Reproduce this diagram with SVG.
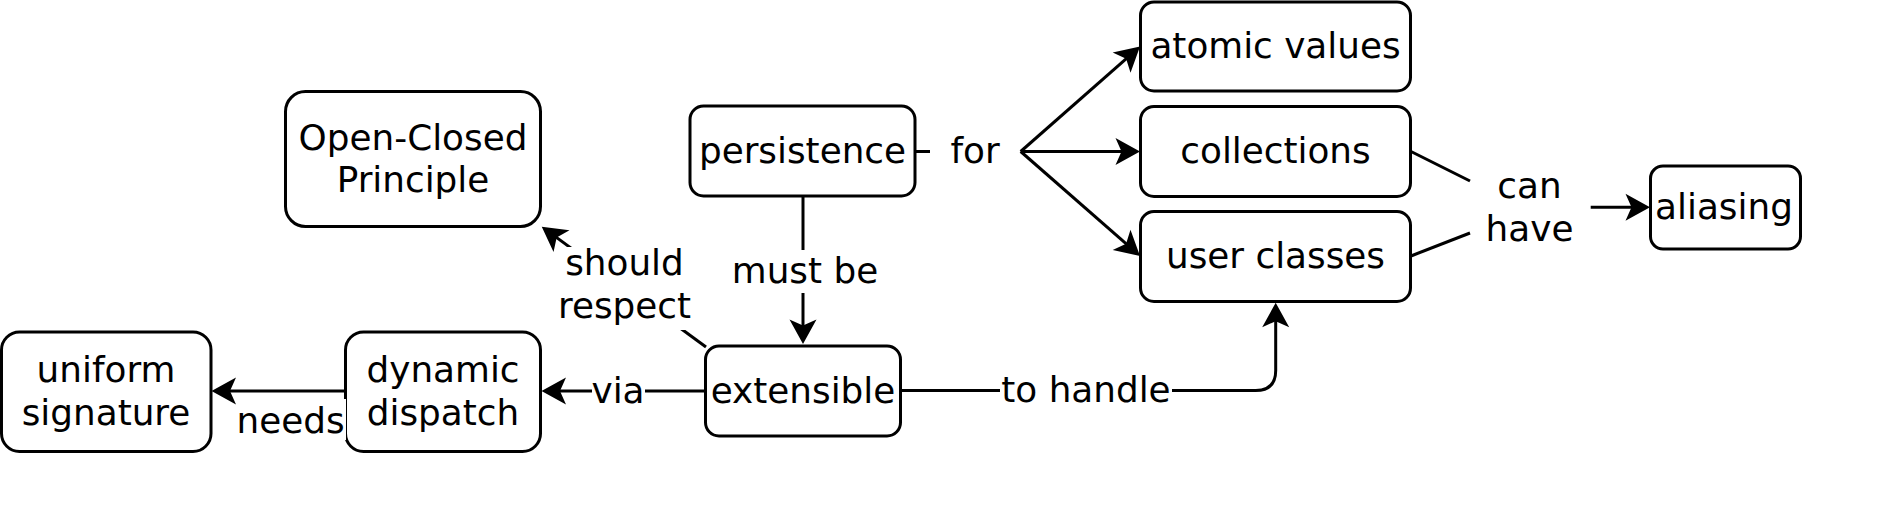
<svg xmlns="http://www.w3.org/2000/svg" width="1879" height="526" viewBox="0 0 1879 526">
<style>
.box{fill:#fff;stroke:#000;stroke-width:3}
.t{font-family:"DejaVu Sans","Liberation Sans",sans-serif;font-size:35.8px;fill:#000;text-anchor:middle}
.e{fill:none;stroke:#000;stroke-width:3}
.a{marker-end:url(#arr)}
.bg{fill:#fff;stroke:none}
</style>
<defs>
<marker id="arr" markerUnits="userSpaceOnUse" viewBox="-30 -15 40 30" markerWidth="40" markerHeight="30" refX="-8" refY="0" orient="auto" overflow="visible">
<path d="M0,0 L-24.5,-13.5 L-18.5,0 L-24.5,13.5 Z" fill="#000"/>
</marker>
</defs>
<rect width="1879" height="526" fill="#fff"/>
<g id="n-ocp"><rect class="box" x="285.5" y="91.5" width="255" height="135" rx="20"/><text class="t" x="413" y="149.5">Open-Closed</text><text class="t" x="413" y="192">Principle</text></g>
<g id="n-persistence"><rect class="box" x="690" y="106" width="225" height="90" rx="13.5"/><text class="t" x="802.5" y="163.3">persistence</text></g>
<g id="n-extensible"><rect class="box" x="705.5" y="346" width="195" height="90" rx="13.5"/><text class="t" x="803" y="402.7">extensible</text></g>
<g id="n-dynamic"><rect class="box" x="345.5" y="332" width="195" height="119.5" rx="18"/><text class="t" x="443" y="382">dynamic</text><text class="t" x="443" y="424.5">dispatch</text></g>
<g id="n-uniform"><rect class="box" x="1.5" y="332" width="209.5" height="119.5" rx="18"/><text class="t" x="106" y="382">uniform</text><text class="t" x="106" y="424.5">signature</text></g>
<g id="n-atomic"><rect class="box" x="1140.5" y="2" width="270" height="89" rx="13.5"/><text class="t" x="1275.5" y="58.3">atomic values</text></g>
<g id="n-collections"><rect class="box" x="1140.5" y="106.5" width="270" height="90" rx="13.5"/><text class="t" x="1275.5" y="163.3">collections</text></g>
<g id="n-userclasses"><rect class="box" x="1140.5" y="211.5" width="270" height="90" rx="13.5"/><text class="t" x="1275.5" y="268.3">user classes</text></g>
<g id="n-aliasing"><rect class="box" x="1650.5" y="166" width="150" height="83" rx="12.5"/><text class="t" x="1724" y="219">aliasing</text></g>
<g id="n-for"><text class="t" x="975" y="163.3">for</text></g>
<g id="n-canhave"><text class="t" x="1529.5" y="198">can</text><text class="t" x="1529.5" y="241">have</text></g>
<g id="connectors">
<path class="e" d="M915,151.5 H930"/>
<path class="e a" d="M1020.7,151.5 L1134,51.8"/>
<path class="e a" d="M1020.7,151.5 H1132"/>
<path class="e a" d="M1020.7,151.5 L1134,250.7"/>
<path class="e" d="M1411,151.5 L1470,181"/>
<path class="e" d="M1411,256 L1470,233"/>
<path class="e a" d="M1590.7,207.3 H1642"/>
<path class="e a" d="M803,196 V336"/>
<rect class="bg" x="731" y="250" width="148" height="43"/>
<text class="t" x="805" y="283">must be</text>
<path class="e a" d="M705,391 H549.5"/>
<rect class="bg" x="592" y="375" width="53" height="36"/>
<text class="t" x="618" y="402.7">via</text>
<path class="e a" d="M345,391 H219.5"/>
<rect class="bg" x="236" y="399" width="110" height="41"/>
<text class="t" x="290.5" y="432.7">needs</text>
<path class="e a" d="M706,347 L548.2,231.4"/>
<rect class="bg" x="557" y="247" width="135" height="83"/>
<text class="t" x="624.5" y="275">should</text>
<text class="t" x="624.5" y="318">respect</text>
<path class="e a" d="M900,390.5 H1255.7 Q1275.7,390.5 1275.7,370.5 V310.7"/>
<rect class="bg" x="1000" y="372" width="172" height="38"/>
<text class="t" x="1086" y="401.7">to handle</text>
</g>
</svg>
